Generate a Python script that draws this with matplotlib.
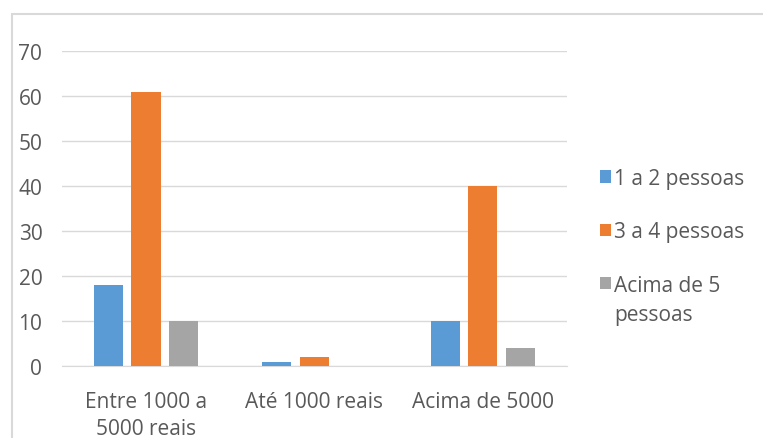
import numpy as np
import matplotlib.pyplot as plt
from matplotlib.patches import Rectangle
from matplotlib.transforms import IdentityTransform

categorias = ['Entre 1000 a\n5000 reais', 'Até 1000 reais', 'Acima de 5000']
series = ['1 a 2 pessoas', '3 a 4 pessoas', 'Acima de 5']
valores = [
    [18, 1, 10],
    [61, 2, 40],
    [10, 0, 4],
]
cores = ['#5B9BD5', '#ED7D31', '#A5A5A5']
cinza_txt = '#595959'

plt.rcParams['font.family'] = ['Open Sans', 'DejaVu Sans']

fig = plt.figure(figsize=(7.63, 4.39), dpi=100)
ax = fig.add_axes([0.081, 0.164, 0.662, 0.7175])

x = np.arange(len(categorias))
larg = 0.173
passo = 0.223
for i, (nome, v) in enumerate(zip(series, valores)):
    ax.bar(x + (i - 1) * passo, v, width=larg, color=cores[i], label=nome, zorder=3)

ax.set_xlim(-0.5, 2.5)
ax.set_ylim(0, 70)
ax.set_yticks(np.arange(0, 71, 10))
ax.set_xticks(x)
ax.set_xticklabels(categorias, fontsize=15, color=cinza_txt, linespacing=1.4)
ax.tick_params(axis='y', labelsize=15, labelcolor=cinza_txt, length=0, pad=14)
ax.tick_params(axis='x', length=0, pad=18)
ax.grid(axis='y', color='#D9D9D9', linewidth=1, zorder=0)
for s in ['top', 'right', 'left']:
    ax.spines[s].set_visible(False)
ax.spines['bottom'].set_color('#D9D9D9')

leg = ax.legend(loc='upper left', bbox_to_anchor=(0.786, 0.615),
                bbox_transform=fig.transFigure, frameon=False, borderpad=0,
                borderaxespad=0, fontsize=15, labelcolor=cinza_txt,
                handlelength=0.53, handleheight=0.53, handletextpad=0.15,
                labelspacing=1.55)

# segunda linha da última legenda
fig.canvas.draw()
bb = leg.get_texts()[2].get_window_extent()
fig.text(bb.x0, bb.y0 - 8, 'pessoas', transform=IdentityTransform(),
         fontsize=15, color=cinza_txt, va='top', ha='left')

# moldura do gráfico
fig.patches.append(Rectangle((12 / 763, -0.1), 1.2, (439 - 15) / 439 + 0.1,
                             transform=fig.transFigure, fill=False,
                             edgecolor='#D9D9D9', linewidth=1.5))

fig.savefig('out.png', dpi=100)
